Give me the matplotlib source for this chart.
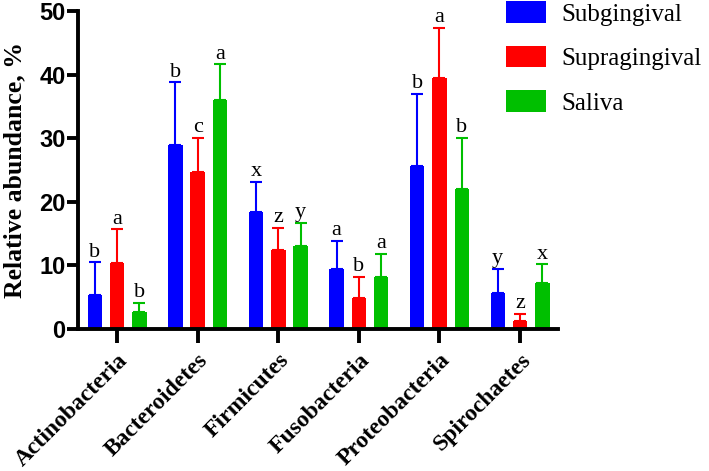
import matplotlib
matplotlib.use("Agg")
import matplotlib.pyplot as plt
import numpy as np

# Relative abundance of phyla by sampling site (mean + SD, letters = significance groups)
phyla = ["Actinobacteria", "Bacteroidetes", "Firmicutes",
         "Fusobacteria", "Proteobacteria", "Spirochaetes"]
groups = ["Subgingival", "Supragingival", "Saliva"]
colors = ["#0000ff", "#ff0000", "#00bf00"]

subgingival = [5.4, 29.0, 18.4, 9.4, 25.7, 5.7]
supragingival = [10.4, 24.7, 12.4, 4.8, 39.5, 1.3]
saliva = [2.6, 36.0, 13.1, 8.1, 22.0, 7.3]

subgingival_sd = [5.1, 9.8, 4.7, 4.5, 11.3, 3.8]
supragingival_sd = [5.3, 5.4, 3.5, 3.4, 7.9, 1.1]
saliva_sd = [1.5, 5.6, 3.6, 3.7, 8.1, 2.9]

subgingival_sig = ["b", "b", "x", "a", "b", "y"]
supragingival_sig = ["a", "c", "z", "b", "a", "z"]
saliva_sig = ["b", "a", "y", "a", "b", "x"]

means = [subgingival, supragingival, saliva]
sds = [subgingival_sd, supragingival_sd, saliva_sd]
sigs = [subgingival_sig, supragingival_sig, saliva_sig]

serif = "Liberation Serif"
sans = "Liberation Sans"

fig = plt.figure(figsize=(7.09, 4.71), dpi=100)
ax = fig.add_axes([0.110, 0.3015, 0.677, 0.675])

x = np.arange(len(phyla))
width = 0.18
offset = 0.277
for i, (name, c) in enumerate(zip(groups, colors)):
    pos = x + (i - 1) * offset
    ax.bar(pos, means[i], width, color=c, label=name, zorder=2)
    ax.errorbar(pos, means[i], yerr=[np.zeros(len(phyla)), sds[i]], fmt="none",
                ecolor=c, elinewidth=1.5, capsize=4, capthick=1.5, zorder=1)
    for p, m, s, t in zip(pos, means[i], sds[i], sigs[i]):
        ax.text(p, m + s + 0.1, t, ha="center", va="bottom",
                fontfamily=serif, fontsize=16)

ax.set_xlim(-0.485, 5.47)
ax.set_ylim(0, 50)
ax.set_yticks([0, 10, 20, 30, 40, 50])
ax.set_xticks(x)
ax.set_xticklabels(phyla, rotation=45, ha="right", rotation_mode="anchor",
                   fontfamily=serif, fontweight="bold", fontsize=17)
for lab in ax.get_yticklabels():
    lab.set_fontfamily(sans)
    lab.set_fontweight("bold")
    lab.set_fontsize(17)
ax.set_ylabel("Relative abundance, %", fontfamily=serif, fontweight="bold",
              fontsize=18.5, labelpad=9)

for side in ["top", "right"]:
    ax.spines[side].set_visible(False)
for side in ["left", "bottom"]:
    ax.spines[side].set_linewidth(2.8)
ax.tick_params(axis="x", length=10, width=2.8, pad=5)
ax.tick_params(axis="y", length=8, width=2.8, pad=1)

leg = ax.legend(loc="upper left", bbox_to_anchor=(0.713, 0.997),
                bbox_transform=fig.transFigure, frameon=False, borderpad=0,
                borderaxespad=0,
                prop={"family": serif, "size": 18}, handlelength=1.6,
                handleheight=0.95, labelspacing=0.8, handletextpad=0.65)

plt.savefig("out.png", dpi=100)
